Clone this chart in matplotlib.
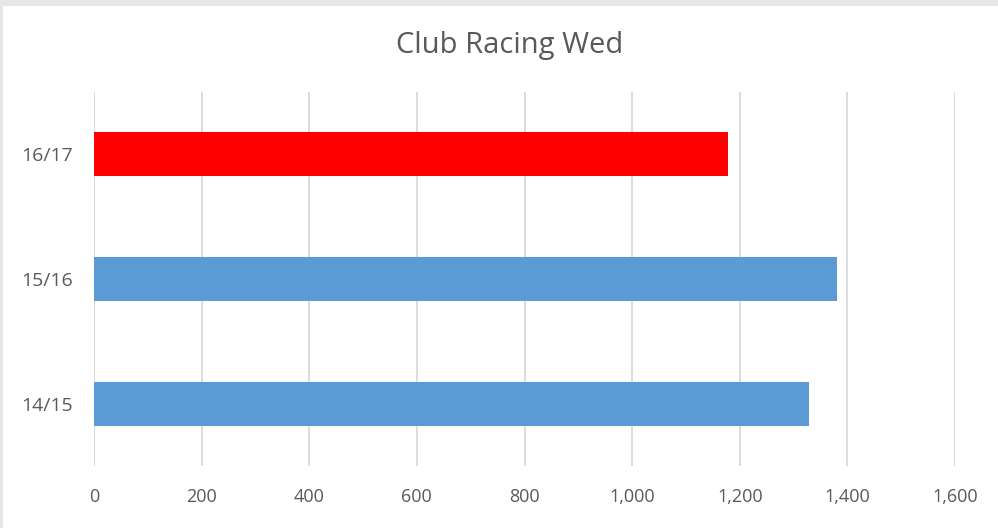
import matplotlib.pyplot as plt
from matplotlib.patches import Rectangle

# Data
seasons = ['14/15', '15/16', '16/17']
values = [1328, 1381, 1179]
colors = ['#5b9bd5', '#5b9bd5', '#ff0000']
xticks = [0, 200, 400, 600, 800, 1000, 1200, 1400, 1600]

plt.rcParams['font.family'] = ['Open Sans', 'DejaVu Sans']

W, H = 998, 528
fig = plt.figure(figsize=(W / 100, H / 100), dpi=100)
fig.patch.set_facecolor('white')

# screenshot frame bits
fig.patches.append(Rectangle((0, 1 - 6 / H), 1, 6 / H, transform=fig.transFigure,
                             facecolor='#e6e6e6', edgecolor='none'))
fig.patches.append(Rectangle((0, 0), 3 / W, 1, transform=fig.transFigure,
                             facecolor='#e6e6e6', edgecolor='none'))

ax = fig.add_axes([94 / W, (H - 466) / H, (955 - 94) / W, (466 - 92) / H])
ax.barh(range(len(seasons)), values, height=0.355, color=colors, zorder=3)

ax.set_xlim(0, 1600)
ax.set_ylim(-0.5, len(seasons) - 0.5)
ax.set_xticks(xticks)
ax.set_xticklabels([f'{v:,}' for v in xticks])
ax.set_yticks(range(len(seasons)))
ax.set_yticklabels(seasons)
ax.grid(axis='x', color='#d9d9d9', linewidth=1.3, zorder=0)
for s in ax.spines.values():
    s.set_visible(False)
ax.tick_params(axis='both', length=0, labelcolor='#595959')
ax.tick_params(axis='x', pad=16, labelsize=13)
ax.tick_params(axis='y', pad=15, labelsize=14)

fig.text(0.5 + 11 / W, 1 - 46 / H, 'Club Racing Wed', ha='center', va='center',
         fontsize=21, color='#595959')

fig.savefig('out.png', dpi=100)
